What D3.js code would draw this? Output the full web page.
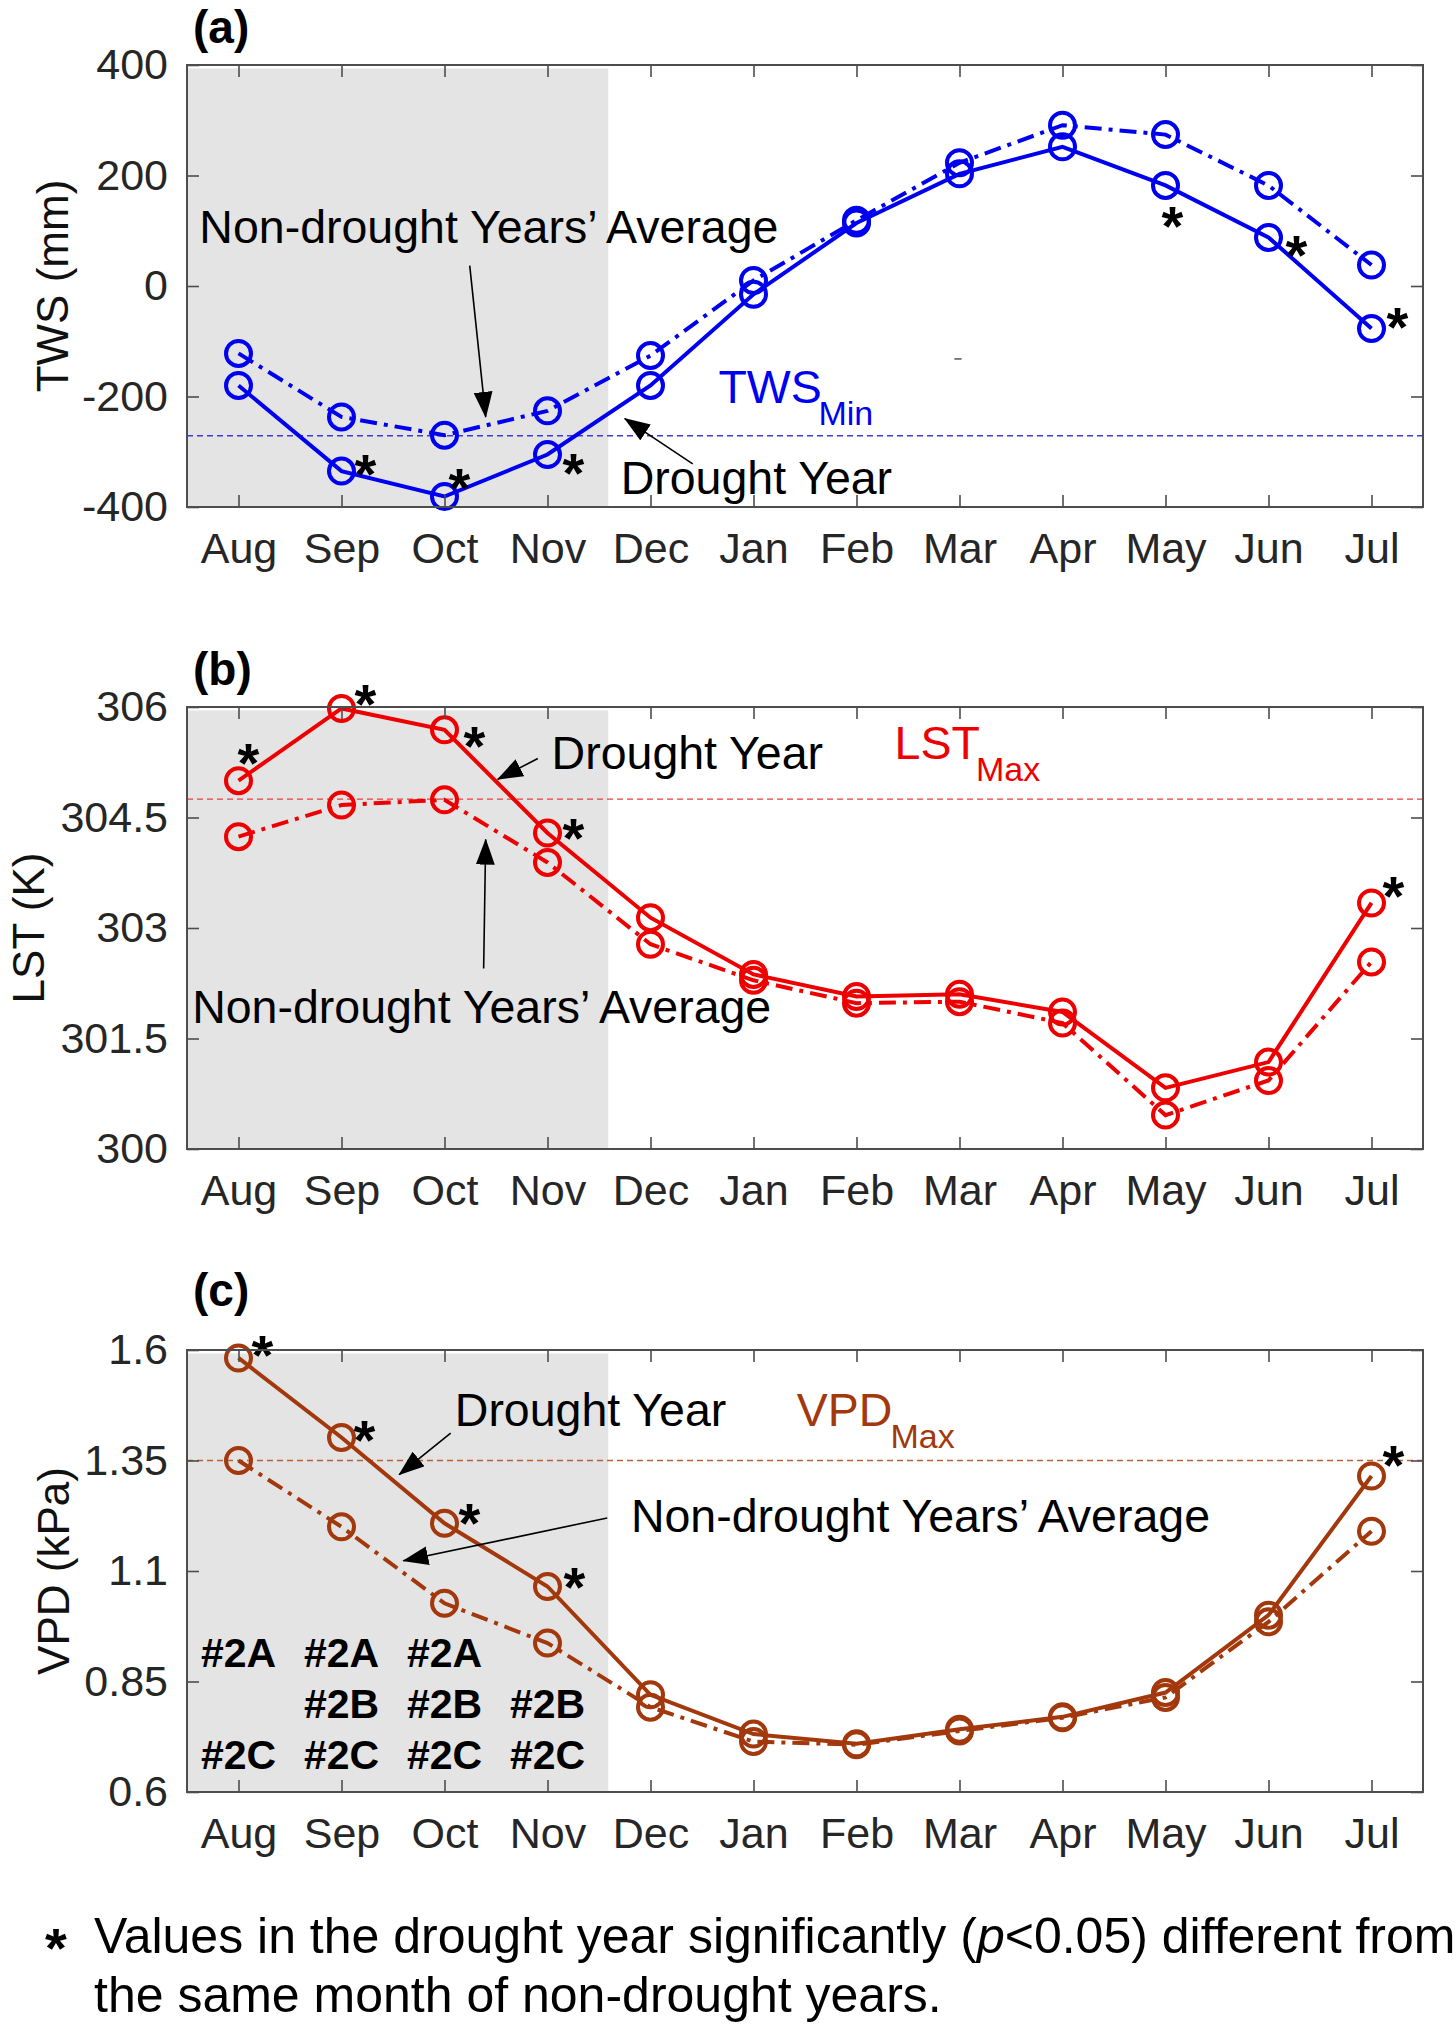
<!DOCTYPE html>
<html>
<head>
<meta charset="utf-8">
<script src="https://cdn.jsdelivr.net/npm/d3@7"></script>
<style>
  body { margin: 0; background: #fff; }
  svg { display: block; font-family: "Liberation Sans", Arial, sans-serif; }
</style>
</head>
<body>
<svg width="1456" height="2026"></svg>
<script>
const months = ["Aug", "Sep", "Oct", "Nov", "Dec", "Jan", "Feb", "Mar", "Apr", "May", "Jun", "Jul"];

// (a) terrestrial water storage
const twsDrought = [-180, -335, -381, -305, -180, -15, 114, 203, 252, 182, 88, -77];
const twsNormal = [-122, -237, -270, -226, -126, 10, 119, 223, 291, 274, 182, 38];
const twsTicks = [400, 200, 0, -200, -400];
const twsMin = -271;
const twsSig = ["Sep", "Oct", "Nov", "May", "Jun", "Jul"];

// (b) land surface temperature
const lstDrought = [305.0, 305.98, 305.69, 304.29, 303.14, 302.37, 302.07, 302.10, 301.86, 300.83, 301.18, 303.34];
const lstNormal = [304.24, 304.67, 304.74, 303.89, 302.78, 302.29, 301.98, 302.0, 301.71, 300.46, 300.93, 302.54];
const lstTicks = [306, 304.5, 303, 301.5, 300];
const lstMax = 304.75;
const lstSig = ["Aug", "Sep", "Oct", "Nov", "Jul"];

// (c) vapour pressure deficit
const vpdDrought = [1.582, 1.402, 1.208, 1.065, 0.820, 0.731, 0.709, 0.742, 0.770, 0.825, 1.0, 1.315];
const vpdNormal = [1.35, 1.2, 1.027, 0.937, 0.792, 0.714, 0.707, 0.738, 0.768, 0.814, 0.985, 1.19];
const vpdTicks = [1.6, 1.35, 1.1, 0.85, 0.6];
const vpdMax = 1.35;
const vpdSig = ["Aug", "Sep", "Oct", "Nov", "Jul"];

// station groups written under the first four months
const groupMonths = ["Aug", "Sep", "Oct", "Nov"];
const groupLabels = [["#2A", "", "#2C"], ["#2A", "#2B", "#2C"], ["#2A", "#2B", "#2C"], ["", "#2B", "#2C"]];

const svg = d3.select("svg");
const x = d3.scaleLinear().domain([0.5, 12.5]).range([187, 1423]);
const panelH = 442;
const axisColor = "#4d4d4d";
const tickText = "#262626";
const font = "'Liberation Sans', Arial, sans-serif";
const noteSize = 46.5;
const starSize = 56;

svg.append("defs").append("marker")
  .attr("id", "head")
  .attr("markerUnits", "userSpaceOnUse")
  .attr("viewBox", "0 0 26 19")
  .attr("markerWidth", 26)
  .attr("markerHeight", 19)
  .attr("refX", 25)
  .attr("refY", 9.5)
  .attr("orient", "auto")
  .append("path")
  .attr("d", "M0,0L26,9.5L0,19Z")
  .attr("fill", "#000");

function mIndex(name) { return months.indexOf(name) + 1; }

function drawPanel(p) {
  const g = svg.append("g");
  const y = d3.scaleLinear().domain(p.domain).range([p.top + panelH, p.top]);

  // shaded drought months
  g.append("rect")
    .attr("x", x(0.5))
    .attr("y", p.top + 3.5)
    .attr("width", x(4.59) - x(0.5))
    .attr("height", panelH - 4.5)
    .attr("fill", "#e4e4e4");

  // reference line (min / max of non-drought average)
  g.append("line")
    .attr("x1", x(0.5)).attr("x2", x(12.5))
    .attr("y1", y(p.ref)).attr("y2", y(p.ref))
    .attr("stroke", p.refColor)
    .attr("stroke-width", 1.4)
    .attr("stroke-dasharray", "6,4");

  const line = d3.line()
    .x((d, i) => x(i + 1))
    .y(d => y(d));

  g.append("path")
    .attr("d", line(p.normal))
    .attr("fill", "none")
    .attr("stroke", p.color)
    .attr("stroke-width", 4)
    .attr("stroke-dasharray", "17,7,4,7");

  g.append("path")
    .attr("d", line(p.drought))
    .attr("fill", "none")
    .attr("stroke", p.color)
    .attr("stroke-width", 4);

  [p.normal, p.drought].forEach(series => {
    g.selectAll(null)
      .data(series)
      .join("circle")
      .attr("cx", (d, i) => x(i + 1))
      .attr("cy", d => y(d))
      .attr("r", 12.5)
      .attr("fill", "none")
      .attr("stroke", p.color)
      .attr("stroke-width", 4);
  });

  // significance stars
  g.selectAll(null)
    .data(p.sig)
    .join("text")
    .attr("x", d => x(mIndex(d)) + p.starOff[d][0])
    .attr("y", d => y(p.drought[mIndex(d) - 1]) + p.starOff[d][1] + 0.57 * starSize)
    .attr("text-anchor", "middle")
    .attr("font-size", starSize)
    .attr("font-weight", 700)
    .attr("fill", "#000")
    .text("*");

  // box
  g.append("rect")
    .attr("x", x(0.5)).attr("y", p.top)
    .attr("width", x(12.5) - x(0.5)).attr("height", panelH)
    .attr("fill", "none")
    .attr("stroke", axisColor)
    .attr("stroke-width", 2);

  const monthIdx = d3.range(1, 13);
  const axes = [
    g.append("g").attr("transform", `translate(${x(0.5)},0)`)
      .call(d3.axisLeft(y).tickValues(p.ticks).tickSize(-12).tickPadding(19).tickFormat(d => String(d))),
    g.append("g").attr("transform", `translate(${x(12.5)},0)`)
      .call(d3.axisRight(y).tickValues(p.ticks).tickSize(-12).tickFormat("")),
    g.append("g").attr("transform", `translate(0,${p.top + panelH})`)
      .call(d3.axisBottom(x).tickValues(monthIdx).tickSize(-12).tickPadding(25).tickFormat(i => months[i - 1])),
    g.append("g").attr("transform", `translate(0,${p.top})`)
      .call(d3.axisTop(x).tickValues(monthIdx).tickSize(-12).tickFormat(""))
  ];
  axes.forEach(a => {
    a.select(".domain").remove();
    a.selectAll(".tick line").attr("stroke", axisColor).attr("stroke-width", 1.6);
    a.selectAll(".tick text")
      .attr("font-size", 43)
      .attr("font-family", font)
      .attr("fill", tickText);
  });

  // y label
  g.append("text")
    .attr("transform", `translate(${p.labelX},${p.top + panelH / 2}) rotate(-90)`)
    .attr("text-anchor", "middle")
    .attr("dy", "0.36em")
    .attr("font-size", 44)
    .attr("fill", "#111")
    .text(p.label);

  // panel tag
  g.append("text")
    .attr("x", 193)
    .attr("y", p.tagY)
    .attr("font-size", 46)
    .attr("font-weight", 700)
    .attr("fill", "#000")
    .text(p.tag);

  // text annotations
  p.notes.forEach(n => {
    g.append("text")
      .attr("x", x(n.m))
      .attr("y", y(n.v))
      .attr("font-size", n.size || noteSize)
      .attr("text-anchor", "start")
      .attr("fill", n.color || "#000")
      .text(n.t);
  });

  // arrows
  p.arrows.forEach(a => {
    g.append("line")
      .attr("x1", x(a[0])).attr("y1", y(a[1]))
      .attr("x2", x(a[2])).attr("y2", y(a[3]))
      .attr("stroke", "#000")
      .attr("stroke-width", 1.6)
      .attr("marker-end", "url(#head)");
  });

  return { g, y };
}

// (a)
const pa = drawPanel({
  top: 65, domain: [-400, 400], ticks: twsTicks,
  drought: twsDrought, normal: twsNormal, ref: twsMin,
  color: "#0000f0", refColor: "#3a3ae0",
  sig: twsSig,
  starOff: { Sep: [24, -10], Oct: [15, -21], Nov: [26, 6], May: [7, 28], Jun: [28, 5], Jul: [26, -14] },
  label: "TWS (mm)", labelX: 52, tag: "(a)", tagY: 43,
  notes: [
    { t: "Non-drought Years\u2019 Average", m: 0.62, v: 78 },
    { t: "Drought Year", m: 4.71, v: -376 },
    { t: "TWS", m: 5.66, v: -211, color: "#0000f0" },
    { t: "Min", m: 6.63, v: -251, color: "#0000f0", size: 34 }
  ],
  arrows: [[3.245, 37, 3.40, -237], [5.41, -322, 4.75, -240]]
});
// small stray mark in the original
pa.g.append("line")
  .attr("x1", x(7.95)).attr("x2", x(8.02))
  .attr("y1", pa.y(-132)).attr("y2", pa.y(-132))
  .attr("stroke", "#555").attr("stroke-width", 1.5);

// (b)
drawPanel({
  top: 707, domain: [300, 306], ticks: lstTicks,
  drought: lstDrought, normal: lstNormal, ref: lstMax,
  color: "#ee0000", refColor: "#e84040",
  sig: lstSig,
  starOff: { Aug: [10, -31], Sep: [24, -17], Oct: [30, 3], Nov: [26, -8], Jul: [22, -20] },
  label: "LST (K)", labelX: 28, tag: "(b)", tagY: 685,
  notes: [
    { t: "Drought Year", m: 4.04, v: 305.16 },
    { t: "LST", m: 7.37, v: 305.30, color: "#ee0000" },
    { t: "Max", m: 8.16, v: 305.0, color: "#ee0000", size: 34 },
    { t: "Non-drought Years\u2019 Average", m: 0.55, v: 301.71 }
  ],
  arrows: [[3.906, 305.30, 3.517, 305.02], [3.38, 302.45, 3.40, 304.2]]
});

// (c)
const pc = drawPanel({
  top: 1350, domain: [0.6, 1.6], ticks: vpdTicks,
  drought: vpdDrought, normal: vpdNormal, ref: vpdMax,
  color: "#a2380b", refColor: "#b8603a",
  sig: vpdSig,
  starOff: { Aug: [24, -16], Sep: [23, -10], Oct: [25, -13], Nov: [27, -12], Jul: [22, -24] },
  label: "VPD (kPa)", labelX: 53, tag: "(c)", tagY: 1306,
  notes: [
    { t: "Drought Year", m: 3.10, v: 1.429 },
    { t: "VPD", m: 6.42, v: 1.429, color: "#a2380b" },
    { t: "Max", m: 7.33, v: 1.379, color: "#a2380b", size: 34 },
    { t: "Non-drought Years\u2019 Average", m: 4.81, v: 1.189 }
  ],
  arrows: [[3.06, 1.412, 2.56, 1.318], [4.58, 1.220, 2.60, 1.123]]
});

const groupRows = [0.883, 0.768, 0.653];
groupMonths.forEach((mon, i) => {
  groupLabels[i].forEach((t, r) => {
    if (!t) return;
    pc.g.append("text")
      .attr("x", x(mIndex(mon)))
      .attr("y", pc.y(groupRows[r]))
      .attr("text-anchor", "middle")
      .attr("font-size", 41)
      .attr("font-weight", 700)
      .attr("fill", "#000")
      .text(t);
  });
});

// footnote
const foot = svg.append("g").attr("font-size", 50).attr("fill", "#000");
foot.append("text").attr("x", 56).attr("y", 1935 + 0.57 * starSize)
  .attr("font-size", starSize).attr("font-weight", 700).attr("text-anchor", "middle").text("*");
const l1 = foot.append("text").attr("x", 94).attr("y", 1953);
l1.append("tspan").text("Values in the drought year significantly (");
l1.append("tspan").attr("font-style", "italic").text("p");
l1.append("tspan").text("<0.05) different from");
foot.append("text").attr("x", 94).attr("y", 2012).text("the same month of non-drought years.");
</script>
</body>
</html>
